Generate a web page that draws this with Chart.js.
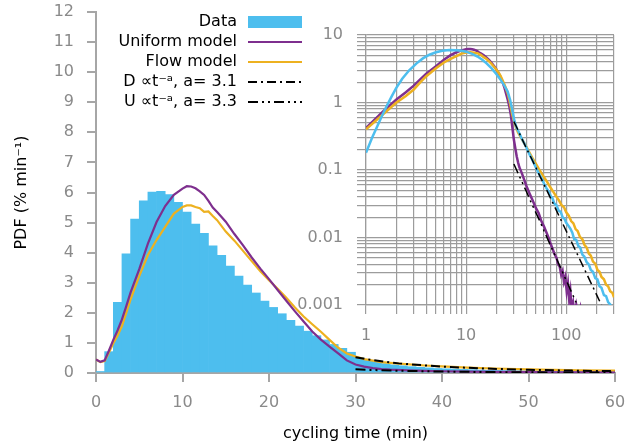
<!DOCTYPE html>
<html>
<head>
<meta charset="utf-8">
<script src="https://cdn.jsdelivr.net/npm/chart.js@4.4.1/dist/chart.umd.min.js"></script>
<style>
  body { margin: 0; background: #fff; }
  #wrap { position: relative; width: 625px; height: 448px; }
  #wrap canvas { position: absolute; left: 0; top: 0; }
</style>
</head>
<body>
<div id="wrap">
  <canvas id="main" width="625" height="448"></canvas>
  <canvas id="inset" width="625" height="448"></canvas>
</div>
<script>
// measured cycling times, 1-min bins starting at 0 min (% per min)
const dataPdf = [
  0.05, 0.71, 2.35, 3.96, 5.12, 5.72, 6.01, 6.04, 5.93, 5.67,
  5.35, 4.95, 4.64, 4.23, 3.91, 3.55, 3.22, 2.92, 2.66, 2.39,
  2.18, 1.97, 1.75, 1.56, 1.39, 1.24, 1.10, 0.95, 0.82, 0.69,
  0.50, 0.42, 0.36, 0.31, 0.27, 0.24, 0.21, 0.19, 0.17, 0.15,
  0.14, 0.13, 0.12, 0.11, 0.10, 0.09, 0.085, 0.08, 0.075, 0.07,
  0.065, 0.06, 0.055, 0.05, 0.05, 0.045, 0.04, 0.04, 0.035, 0.035
];

// same data on log-log axes (inset)
const dataCurveT = [
  1, 1.15, 1.3, 1.45, 1.6, 1.8, 2, 2.3, 2.7, 3.2,
  3.7, 4.3, 5, 5.8, 6.8, 8, 9, 10, 11.5, 13,
  14.5, 16, 18, 20, 22, 24, 26, 27.5, 29, 30.5,
  32, 34, 36, 38, 40, 43, 46, 50, 53, 56,
  60, 63, 66, 70, 73, 76, 80, 84, 88, 92,
  96, 100, 105, 110, 115, 120, 126, 132, 138, 145,
  152, 160, 168, 176, 185, 195, 205, 215, 225, 238,
  250, 262, 275, 290, 300
];
const dataCurvePdf = [
  0.18, 0.30, 0.45, 0.64, 0.87, 1.22, 1.63, 2.25, 3.0, 3.8,
  4.5, 5.1, 5.55, 5.85, 6.0, 5.95, 5.85, 5.66, 5.25, 4.8,
  4.3, 3.8, 3.2, 2.65, 2.2, 1.8, 1.45, 1.1, 0.75, 0.52,
  0.42, 0.35, 0.29, 0.25, 0.215, 0.17, 0.14, 0.107, 0.09, 0.078,
  0.063, 0.055, 0.049, 0.041, 0.038, 0.032, 0.030, 0.025, 0.024, 0.020,
  0.019, 0.0165, 0.0150, 0.0135, 0.0118, 0.0095, 0.0092, 0.0075, 0.0071, 0.0056,
  0.0052, 0.0043, 0.0040, 0.0033, 0.0031, 0.0025, 0.0024, 0.0019, 0.0018, 0.0014,
  0.00135, 0.0011, 0.00102, 0.00088, 0.00085
];

// uniform model
const uniformT = [
  0, 0.5, 1, 1.5, 2, 2.5, 3, 3.5, 4, 5,
  6, 7, 8, 9, 10, 10.5, 11, 11.5, 12, 12.5,
  13, 13.5, 14, 15, 16, 17, 18, 19, 20, 21,
  22, 23, 24, 25, 26, 27, 28, 29, 30, 31,
  32, 33, 34, 36, 38, 40, 43, 46, 50, 53,
  56, 60, 63, 66, 70, 73, 76, 80, 83, 86,
  89, 92, 95, 98, 101, 104, 107, 110, 113, 117,
  121, 126, 132, 138, 142
];
const uniformPdf = [
  0.45, 0.37, 0.42, 0.75, 1.10, 1.42, 1.78, 2.22, 2.68, 3.45,
  4.30, 5.02, 5.55, 5.92, 6.13, 6.21, 6.20, 6.14, 6.04, 5.92,
  5.72, 5.50, 5.35, 5.03, 4.62, 4.24, 3.84, 3.47, 3.12, 2.76,
  2.40, 2.05, 1.71, 1.38, 1.11, 0.88, 0.65, 0.42, 0.28, 0.21,
  0.16, 0.13, 0.11, 0.090, 0.072, 0.058, 0.045, 0.036, 0.027, 0.023,
  0.018, 0.0145, 0.0122, 0.0103, 0.0080, 0.0068, 0.0058, 0.0050, 0.0040, 0.0037,
  0.0028, 0.0032, 0.0022, 0.0026, 0.0016, 0.0021, 0.0012, 0.0016, 0.0009, 0.0011,
  0.0007, 0.0010, 0.0007, 0.0009, 0.0006
];

// flow model
const flowT = [
  0, 0.5, 1, 1.5, 2, 2.5, 3, 3.5, 4, 5,
  6, 7, 8, 9, 10, 10.5, 11, 11.5, 12, 12.5,
  13, 13.5, 14, 15, 16, 17, 18, 19, 20, 21,
  22, 23, 24, 25, 26, 27, 28, 29, 30, 31,
  33, 35, 38, 40, 43, 46, 50, 53, 56, 60,
  64, 68, 72, 76, 80, 85, 90, 95, 100, 106,
  112, 118, 124, 130, 137, 145, 152, 160, 168, 176,
  185, 195, 205, 215, 225, 238, 250, 262, 275, 290,
  300
];
const flowPdf = [
  0.45, 0.36, 0.40, 0.68, 0.99, 1.25, 1.56, 2.00, 2.45, 3.22,
  3.92, 4.42, 4.86, 5.30, 5.52, 5.57, 5.57, 5.52, 5.48, 5.36,
  5.37, 5.22, 5.08, 4.70, 4.40, 4.06, 3.72, 3.38, 3.08, 2.80,
  2.50, 2.18, 1.88, 1.62, 1.37, 1.10, 0.84, 0.65, 0.55, 0.46,
  0.36, 0.31, 0.25, 0.22, 0.18, 0.15, 0.122, 0.105, 0.092, 0.078,
  0.068, 0.058, 0.051, 0.045, 0.040, 0.035, 0.030, 0.028, 0.0236, 0.021,
  0.0175, 0.0162, 0.0133, 0.0125, 0.0102, 0.0094, 0.0078, 0.0071, 0.0058, 0.0054,
  0.0044, 0.0041, 0.0033, 0.0031, 0.0026, 0.0024, 0.0020, 0.0019, 0.0016, 0.0015,
  0.0013
];

// power-law tails
const fitDT = [30, 32, 35, 40, 45, 50, 55, 60, 100, 225];
const fitD = [0.52, 0.43, 0.32, 0.21, 0.148, 0.107, 0.079, 0.061, 0.0125, 0.001];
const fitUT = [30, 32, 35, 40, 45, 50, 55, 60, 129];
const fitU = [0.123, 0.099, 0.074, 0.048, 0.032, 0.023, 0.017, 0.0125, 0.001];

const seriesLabels = ["Data", "Uniform model", "Flow model", "D \u221dt\u207b\u1d43, a= 3.1", "U \u221dt\u207b\u1d43, a= 3.3"];
const insetXLabels = ["1", "10", "100"];
const insetYLabels = ["0.001", "0.01", "0.1", "1", "10"];

const BLUE = "#4dbeee", PURPLE = "#7e2f8e", ORANGE = "#edb120";
const AXIS_GREY = "#a6a6a6", TICK_TEXT = "#8a8a8a", GRID_GREY = "#9c9c9c";
const DASH_D = [9, 4, 2, 4];
const DASH_U = [10, 4, 2, 4, 2, 4];

Chart.defaults.font.family = "'DejaVu Sans'";
Chart.defaults.font.size = 16;
Chart.defaults.animation = false;

const pts = (ts, vs) => ts.map((t, i) => ({ x: t, y: vs[i] }));
const logPts = (ts, vs) => pts(ts, vs).filter(p => p.x >= 1);

// right-aligned legend with the key on the right of each label
const sideLegend = {
  id: "sideLegend",
  afterDraw(chart, args, opts) {
    const ctx = chart.ctx;
    ctx.save();
    ctx.font = "16px 'DejaVu Sans'";
    ctx.textAlign = "right";
    ctx.textBaseline = "middle";
    chart.data.datasets.forEach((ds, i) => {
      const y = opts.top + i * opts.rowHeight;
      ctx.fillStyle = "#000";
      ctx.fillText(ds.label, opts.textRight, y);
      if (ds.type === "bar") {
        ctx.fillStyle = ds.backgroundColor;
        ctx.fillRect(opts.keyLeft, y - 6, opts.keyWidth, 12);
      } else {
        ctx.strokeStyle = ds.borderColor;
        ctx.lineWidth = 2.2;
        ctx.setLineDash(ds.borderDash || []);
        ctx.beginPath();
        ctx.moveTo(opts.keyLeft, y);
        ctx.lineTo(opts.keyLeft + opts.keyWidth, y);
        ctx.stroke();
      }
    });
    ctx.restore();
  }
};

const linearAxis = (min, max, step, title, titlePad, tickPad, fit) => ({
  type: "linear",
  min: min,
  max: max,
  offset: false,
  ticks: { stepSize: step, color: TICK_TEXT, padding: tickPad },
  grid: { offset: false, drawOnChartArea: false, drawTicks: true, tickLength: 9, color: AXIS_GREY, lineWidth: 2 },
  border: { display: true, color: AXIS_GREY, width: 2 },
  title: { display: true, text: title, color: "#000", padding: titlePad },
  afterFit: fit
});

new Chart(document.getElementById("main"), {
  data: {
    datasets: [
      {
        type: "bar",
        label: seriesLabels[0],
        data: dataPdf.map((v, i) => ({ x: i + 0.5, y: v })),
        backgroundColor: BLUE,
        barPercentage: 1,
        categoryPercentage: 1,
        borderWidth: 0,
        order: 5
      },
      {
        type: "line",
        label: seriesLabels[1],
        data: pts(uniformT, uniformPdf),
        borderColor: PURPLE,
        borderWidth: 2.2,
        pointRadius: 0,
        order: 3
      },
      {
        type: "line",
        label: seriesLabels[2],
        data: pts(flowT, flowPdf),
        borderColor: ORANGE,
        borderWidth: 2.2,
        pointRadius: 0,
        order: 4
      },
      {
        type: "line",
        label: seriesLabels[3],
        data: pts(fitDT, fitD),
        borderColor: "#000",
        borderWidth: 2,
        borderDash: DASH_D,
        pointRadius: 0,
        order: 1
      },
      {
        type: "line",
        label: seriesLabels[4],
        data: pts(fitUT, fitU),
        borderColor: "#000",
        borderWidth: 2,
        borderDash: DASH_U,
        pointRadius: 0,
        order: 2
      }
    ]
  },
  options: {
    responsive: false,
    devicePixelRatio: 1,
    layout: { padding: { left: 0, top: 12, right: 10, bottom: 0 } },
    scales: {
      // fixed box sizes so the plot area lands at 96..615 x 12..373
      x: linearAxis(0, 60, 10, "cycling time (min)", { top: 0, bottom: 5 }, 11, s => {
        s.height = 75;
        s.paddingLeft = 0;
        s.paddingRight = 0;
      }),
      y: linearAxis(0, 12, 1, "PDF (% min\u207b\u00b9)", { top: 12, bottom: 0 }, 13, s => {
        s.width = 96;
        s.paddingTop = 0;
        s.paddingBottom = 0;
      })
    },
    plugins: {
      legend: { display: false },
      tooltip: { enabled: false },
      sideLegend: { top: 22, rowHeight: 20, textRight: 237, keyLeft: 248, keyWidth: 54 }
    }
  },
  plugins: [sideLegend]
});

// grid at 1..9 x each decade between min and max
function logTicks(min, max) {
  const ticks = [];
  for (let e = Math.floor(Math.log10(min)); Math.pow(10, e) <= max; e++) {
    for (let k = 1; k <= 9; k++) {
      const v = k * Math.pow(10, e);
      if (v >= min * 0.999 && v <= max * 1.001) ticks.push({ value: v, major: k === 1 });
    }
  }
  return ticks;
}

const logAxis = (min, max, labels, tickPad, fit) => ({
  type: "logarithmic",
  min: min,
  max: max,
  afterBuildTicks: s => { s.ticks = logTicks(min, max); },
  ticks: {
    autoSkip: false,
    maxRotation: 0,
    color: TICK_TEXT,
    padding: tickPad,
    callback: v => labels.find(l => Math.abs(Number(l) - v) < v * 1e-6) || ""
  },
  grid: { color: GRID_GREY, lineWidth: 1.2, tickLength: 9 },
  border: { display: true, color: GRID_GREY, width: 1.2 },
  afterFit: fit
});

new Chart(document.getElementById("inset"), {
  type: "line",
  data: {
    datasets: [
      { data: logPts(dataCurveT, dataCurvePdf), borderColor: BLUE, borderWidth: 2.5, pointRadius: 0, order: 3 },
      { data: logPts(uniformT, uniformPdf), borderColor: PURPLE, borderWidth: 2.5, pointRadius: 0, order: 5 },
      { data: logPts(flowT, flowPdf), borderColor: ORANGE, borderWidth: 2.5, pointRadius: 0, order: 4 },
      { data: pts(fitDT, fitD), borderColor: "#000", borderWidth: 1.5, borderDash: DASH_D, pointRadius: 0, order: 1 },
      { data: pts(fitUT, fitU), borderColor: "#000", borderWidth: 1.5, borderDash: DASH_U, pointRadius: 0, order: 2 }
    ]
  },
  options: {
    responsive: false,
    devicePixelRatio: 1,
    layout: { padding: { left: 0, top: 35, right: 11, bottom: 0 } },
    scales: {
      x: logAxis(1, 300, insetXLabels, 12, s => { s.height = 143; s.paddingRight = 0; }),
      y: logAxis(0.001, 10, insetYLabels, 14, s => { s.width = 366; s.paddingTop = 0; })
    },
    plugins: {
      legend: { display: false },
      tooltip: { enabled: false }
    }
  }
});
</script>
</body>
</html>
